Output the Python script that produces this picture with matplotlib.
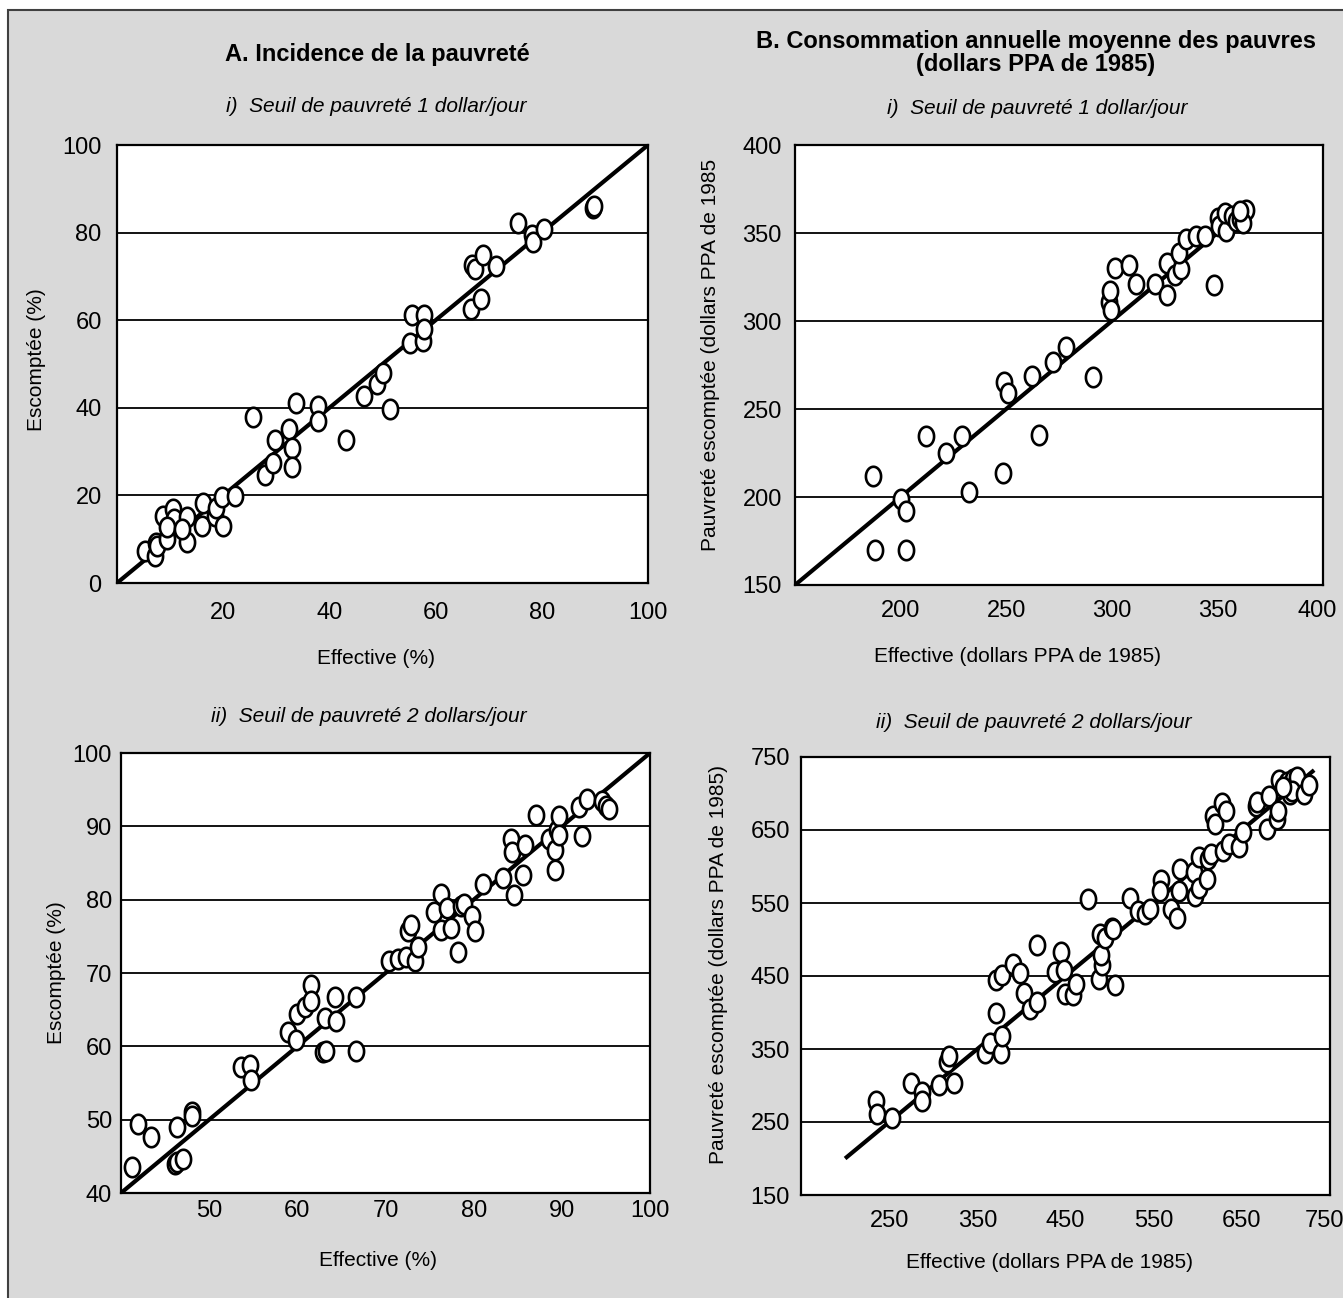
import numpy as np
import matplotlib
matplotlib.use("Agg")
import matplotlib.pyplot as plt
from matplotlib.path import Path
from matplotlib.patches import Rectangle
from matplotlib.transforms import ScaledTranslation

plt.rcParams["font.family"] = ["Liberation Sans", "DejaVu Sans"]

# Panel A-i: poverty incidence, $1/day line (%)
a1_actual = [5.3, 7.1, 7.4, 7.6, 8.6, 9.5, 10.5, 10.8, 9.5, 13.2, 13.2, 12.2,
             16.2, 16.1, 18.4, 18.7, 19.9, 19.8, 22.3, 27.8, 29.3, 29.7, 25.6,
             32.4, 32.9, 33.0, 33.7, 37.8, 37.9, 43.1, 46.6, 49.0, 50.1, 51.4,
             55.2, 55.6, 57.7, 57.8, 57.8, 66.7, 68.5, 66.9, 67.4, 68.9, 71.4,
             75.6, 78.2, 78.4, 80.5, 89.6, 89.8]
a1_predicted = [7.3, 6.2, 9.2, 8.5, 15.2, 10.0, 16.8, 14.5, 12.7, 15.1, 9.4, 12.3,
                18.2, 13.0, 15.3, 17.2, 13.0, 19.6, 19.8, 24.6, 27.4, 32.7, 37.9,
                35.2, 30.8, 26.5, 41.2, 40.5, 37.0, 32.6, 42.7, 45.5, 48.0, 39.8,
                54.7, 61.1, 55.3, 61.1, 58.1, 62.5, 64.9, 72.5, 71.7, 74.8, 72.3,
                82.3, 79.5, 77.8, 80.8, 85.6, 86.1]

# Panel B-i: mean consumption of the poor, $1/day line (1985 PPP $)
b1_actual = [186.7, 187.9, 202.7, 200.2, 202.7, 212.2, 221.4, 229.1, 232.5,
             248.3, 249.1, 250.9, 262.4, 265.3, 272.1, 278.1, 291.2, 298.5,
             299.3, 299.7, 301.4, 308.2, 311.6, 320.6, 326.2, 326.2, 329.9,
             332.8, 331.6, 335.0, 340.1, 343.9, 348.6, 350.3, 350.7, 354.3,
             353.7, 357.1, 358.8, 360.9, 362.2, 363.6, 362.2, 360.5]
b1_predicted = [212.0, 169.7, 170.1, 198.9, 191.9, 234.6, 225.2, 234.6, 202.6,
                213.9, 265.2, 259.0, 269.0, 235.2, 276.5, 285.3, 268.4, 310.7,
                317.3, 306.0, 329.9, 331.8, 321.1, 321.1, 314.8, 332.7, 326.1,
                329.5, 338.9, 346.8, 348.3, 348.3, 320.5, 358.6, 354.0, 351.1,
                361.5, 359.6, 356.8, 358.1, 361.5, 363.3, 355.8, 362.4]

# Panel A-ii: poverty incidence, $2/day line (%)
a2_actual = [41.2, 41.9, 43.4, 46.3, 46.1, 46.4, 47.0, 48.0, 48.0, 53.6, 54.6,
             54.7, 58.9, 59.8, 60.0, 60.9, 61.5, 61.5, 62.9, 63.3, 63.1, 64.3,
             64.4, 66.7, 66.7, 70.4, 71.4, 72.3, 72.6, 72.9, 73.4, 73.7, 75.5,
             76.3, 76.3, 77.0, 77.4, 78.2, 78.6, 78.9, 79.8, 80.2, 81.1, 83.3,
             84.6, 85.6, 84.2, 84.4, 85.8, 87.1, 88.6, 89.2, 89.2, 89.5, 89.7,
             89.7, 91.9, 92.3, 92.8, 94.6, 95.0, 95.4]
a2_predicted = [43.6, 49.4, 47.6, 49.0, 43.9, 44.2, 44.7, 51.1, 50.5, 57.2, 57.4,
                55.4, 62.0, 60.8, 64.4, 65.3, 68.3, 66.2, 59.2, 59.3, 63.8, 66.7,
                63.5, 66.7, 59.3, 71.7, 71.9, 72.2, 75.7, 76.6, 71.6, 73.5, 78.3,
                80.8, 75.9, 78.8, 76.2, 72.8, 79.2, 79.4, 77.8, 75.7, 82.1, 82.9,
                80.6, 83.4, 88.3, 86.5, 87.5, 91.5, 88.3, 84.1, 86.8, 89.5, 91.4,
                88.8, 92.7, 88.7, 93.7, 93.4, 92.8, 92.3]

# Panel B-ii: mean consumption of the poor, $2/day line (1985 PPP $)
b2_actual = [234.8, 236.4, 252.7, 274.3, 287.8, 287.8, 306.1, 315.1, 318.3,
             324.1, 359.1, 364.0, 377.1, 377.5, 371.4, 371.0, 378.3, 390.5,
             397.9, 402.8, 409.7, 418.2, 418.2, 438.6, 444.7, 448.4, 449.6,
             459.0, 461.9, 475.3, 488.4, 491.2, 490.4, 489.6, 495.3, 502.6,
             503.9, 506.7, 523.0, 532.4, 540.6, 545.4, 558.5, 557.7, 569.9,
             576.8, 579.0, 580.1, 595.2, 596.4, 601.7, 601.3, 610.7, 611.5,
             614.7, 616.8, 619.6, 627.0, 632.3, 628.2, 636.0, 646.6, 651.4,
             665.7, 667.7, 678.7, 681.2, 690.2, 691.4, 692.2, 701.6, 704.4,
             708.5, 712.6, 706.5, 720.7, 726.0, 697.1]
b2_predicted = [278.4, 261.5, 255.5, 302.8, 291.3, 278.4, 300.5, 332.6, 340.8,
                302.8, 344.0, 357.8, 344.0, 368.3, 400.0, 445.0, 451.8, 466.5,
                454.1, 426.6, 405.0, 413.8, 493.1, 455.0, 483.0, 458.7, 425.2,
                424.3, 439.0, 556.0, 445.9, 465.6, 479.4, 507.8, 502.3, 516.1,
                513.8, 437.2, 556.4, 539.0, 534.4, 541.3, 581.2, 566.5, 542.2,
                529.8, 566.5, 596.3, 592.7, 559.6, 571.1, 612.4, 582.6, 610.1,
                617.0, 669.7, 658.3, 686.7, 676.6, 621.6, 630.7, 627.1, 646.8,
                683.5, 688.1, 651.4, 697.2, 665.1, 676.6, 717.9, 715.6, 699.5,
                720.2, 722.5, 704.1, 699.5, 711.0, 708.7]

# 45-degree reference segments (actual == predicted)
a1_line = [0, 100]
b1_line = [150, 365]
a2_line = [40, 100]
b2_line = [200, 732]

W, H = 1343, 1298
BG = "#d9d9d9"


def rect(x0, y0, x1, y1):
    """Axes rectangle from pixel corners (top-left origin)."""
    return [x0 / W, 1 - y1 / H, (x1 - x0) / W, (y1 - y0) / H]


def put(fig, px, py, s, **kw):
    fig.text(px / W, 1 - py / H, s, ha="center", va="center", **kw)


# slightly tall ellipse used as the marker
t = np.linspace(0, 2 * np.pi, 60)
ellipse = Path(np.column_stack([0.78 * np.cos(t), np.sin(t)]), closed=True)


def panel(ax, x, y, line, lims, yticks, xticks, xpad, ypad):
    ax.set_facecolor("white")
    ax.plot(line, line, color="black", lw=3.0, solid_capstyle="butt", zorder=2)
    ax.plot(x, y, ls="none", marker=ellipse, ms=14, mfc="white",
            mec="black", mew=1.9, zorder=3)
    ax.set_xlim(lims)
    ax.set_ylim(lims)
    ax.set_xticks(xticks)
    ax.set_yticks(yticks)
    ax.grid(axis="y", color="black", lw=1.3)
    ax.set_axisbelow(True)
    ax.tick_params(length=0, labelsize=17)
    ax.tick_params(axis="x", pad=xpad)
    ax.tick_params(axis="y", pad=ypad)
    for sp in ax.spines.values():
        sp.set_linewidth(1.6)


def pull_last_xlabel(fig, ax):
    # keep the right-most x tick label inside the frame
    lab = ax.get_xticklabels()[-1]
    lab.set_horizontalalignment("right")
    lab.set_transform(lab.get_transform()
                      + ScaledTranslation(10 / 72, 0, fig.dpi_scale_trans))


fig = plt.figure(figsize=(W / 100, H / 100), dpi=100, facecolor="white")
fig.patches.append(Rectangle((8 / W, -0.02), 1.0, 1 - 10 / H + 0.02,
                             transform=fig.transFigure, facecolor=BG,
                             edgecolor="#404040", lw=1.5, zorder=-10))

ax1 = fig.add_axes(rect(117, 145, 648, 583))
panel(ax1, a1_actual, a1_predicted, a1_line, (0, 100),
      range(0, 101, 20), range(20, 101, 20), 14, 11)

ax2 = fig.add_axes(rect(795, 145, 1323, 585))
panel(ax2, b1_actual, b1_predicted, b1_line, (150, 400),
      range(150, 401, 50), range(200, 401, 50), 10.5, 9.5)
pull_last_xlabel(fig, ax2)

ax3 = fig.add_axes(rect(121, 753, 650, 1193))
panel(ax3, a2_actual, a2_predicted, a2_line, (40, 100),
      range(40, 101, 10), range(50, 101, 10), 5, 6.5)

ax4 = fig.add_axes(rect(801, 757, 1330, 1195))
panel(ax4, b2_actual, b2_predicted, b2_line, (150, 750),
      range(150, 751, 100), range(250, 751, 100), 10.5, 8)
pull_last_xlabel(fig, ax4)

# headings
put(fig, 377, 55, "A. Incidence de la pauvreté", fontsize=17, fontweight="bold")
put(fig, 1036, 53, "B. Consommation annuelle moyenne des pauvres\n(dollars PPA de 1985)",
    fontsize=17, fontweight="bold", linespacing=1.05)
put(fig, 376, 107, "i)  Seuil de pauvreté 1 dollar/jour", fontsize=15, style="italic")
put(fig, 1037, 108, "i)  Seuil de pauvreté 1 dollar/jour", fontsize=15, style="italic")
put(fig, 369, 717, "ii)  Seuil de pauvreté 2 dollars/jour", fontsize=15, style="italic")
put(fig, 1034, 723, "ii)  Seuil de pauvreté 2 dollars/jour", fontsize=15, style="italic")

# axis titles
put(fig, 376, 658, "Effective (%)", fontsize=15)
put(fig, 1017, 657, "Effective (dollars PPA de 1985)", fontsize=15)
put(fig, 378, 1260, "Effective (%)", fontsize=15)
put(fig, 1049, 1262, "Effective (dollars PPA de 1985)", fontsize=15)
put(fig, 37, 360, "Escomptée (%)", fontsize=15, rotation=90)
put(fig, 57, 973, "Escomptée (%)", fontsize=15, rotation=90)
put(fig, 710, 355, "Pauvreté escomptée (dollars PPA de 1985", fontsize=15, rotation=90)
put(fig, 718, 965, "Pauvreté escomptée (dollars PPA de 1985)", fontsize=15, rotation=90)

fig.savefig("out.png", dpi=100, facecolor="white")
